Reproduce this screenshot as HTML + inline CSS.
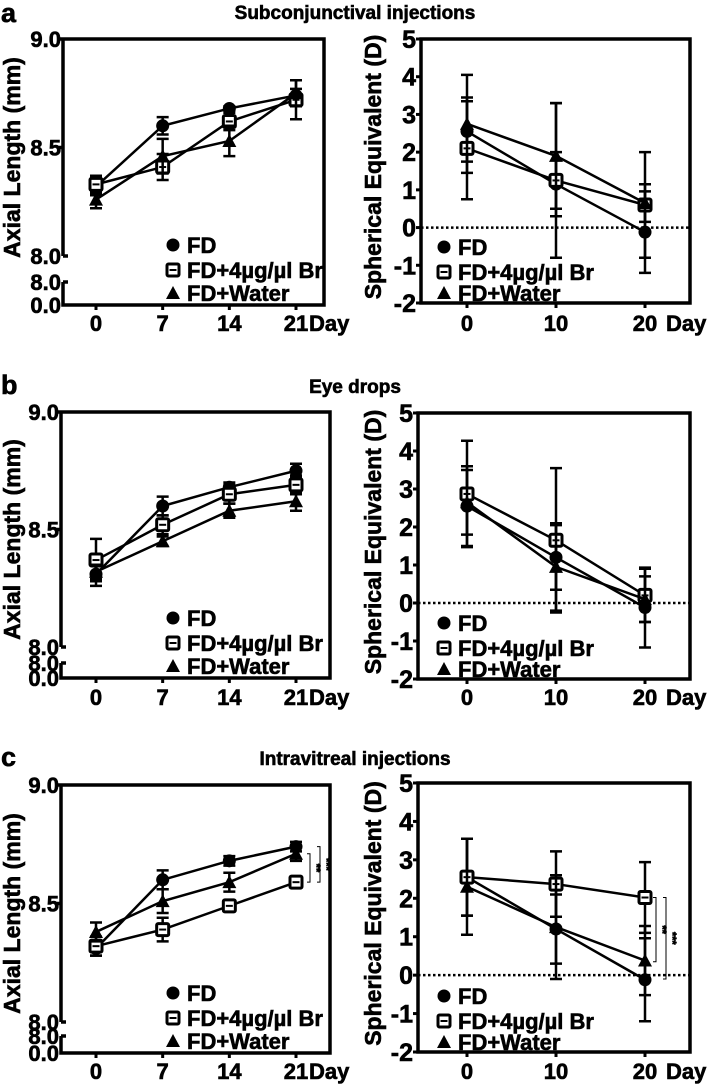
<!DOCTYPE html>
<html><head><meta charset="utf-8">
<style>
body{margin:0;background:#fff;}
svg text{font-family:"Liberation Sans",Arial,sans-serif;font-weight:bold;fill:#000;stroke:#000;stroke-width:0.6px;}
</style></head>
<body>
<svg id="fig" width="709" height="1085" viewBox="0 0 709 1085" xmlns="http://www.w3.org/2000/svg">
<text x="1" y="22" font-size="27">a</text>
<text x="355" y="19" font-size="19" text-anchor="middle">Subconjunctival injections</text>
<text x="1" y="394" font-size="27">b</text>
<text x="355" y="393" font-size="19" text-anchor="middle">Eye drops</text>
<text x="1" y="766" font-size="27">c</text>
<text x="355" y="765" font-size="19" text-anchor="middle">Intravitreal injections</text>
</svg>
<script>
// ---- data ----
const alDays = [0, 7, 14, 21];
const alTicks = ["0", "7", "14", "21"];
const seDays = [0, 10, 20];
const seTicks = ["0", "10", "20"];
const seYTicks = [5, 4, 3, 2, 1, 0, -1, -2];
const seriesNames = ["FD", "FD+4µg/µl Br", "FD+Water"];

const aAL_FD = [8.32, 8.60, 8.68, 8.74];
const aAL_Br = [8.33, 8.41, 8.62, 8.72];
const aAL_W  = [8.26, 8.46, 8.53, 8.75];
const aAL_FDe = [0.04, 0.04, 0.01, 0.03];
const aAL_Bre = [0.04, 0.06, 0.04, 0.09];
const aAL_We  = [0.04, 0.08, 0.07, 0.06];

const aSE_FD = [2.55, 1.15, -0.12];
const aSE_Br = [2.10, 1.25, 0.60];
const aSE_W  = [2.75, 1.90, 0.65];
const aSE_FDe = [0.8, 0.85, 1.08];
const aSE_Bre = [1.35, 2.05, 1.4];
const aSE_We  = [1.3, 1.4, 0.5];

const bAL_FD = [8.31, 8.60, 8.68, 8.75];
const bAL_Br = [8.37, 8.52, 8.65, 8.69];
const bAL_W  = [8.32, 8.45, 8.58, 8.62];
const bAL_FDe = [0.05, 0.04, 0.02, 0.03];
const bAL_Bre = [0.09, 0.04, 0.04, 0.04];
const bAL_We  = [0.03, 0.02, 0.03, 0.04];

const bSE_FD = [2.55, 1.20, -0.12];
const bSE_Br = [2.87, 1.65, 0.20];
const bSE_W  = [2.65, 0.95, 0.10];
const bSE_FDe = [1.05, 0.85, 1.05];
const bSE_Bre = [1.4, 1.9, 0.7];
const bSE_We  = [0.85, 1.15, 0.6];

const cAL_FD = [8.31, 8.60, 8.68, 8.74];
const cAL_Br = [8.32, 8.39, 8.49, 8.59];
const cAL_W  = [8.38, 8.51, 8.59, 8.71];
const cAL_FDe = [0.03, 0.04, 0.02, 0.02];
const cAL_Bre = [0.04, 0.05, 0.01, 0.02];
const cAL_We  = [0.04, 0.05, 0.04, 0.03];

const cSE_FD = [2.55, 1.20, -0.12];
const cSE_Br = [2.55, 2.37, 2.02];
const cSE_W  = [2.30, 1.25, 0.38];
const cSE_FDe = [1.0, 0.9, 1.08];
const cSE_Bre = [1.0, 0.85, 0.92];
const cSE_We  = [1.25, 1.35, 0.9];

const cALsig = [[8.71, 8.59, "**"], [8.74, 8.59, "***"]];
const cSEsig = [[2.02, 0.35, "**"], [2.02, -0.1, "***"]];

// ---- drawing ----
const svg = document.getElementById('fig');
const NS = 'http://www.w3.org/2000/svg';
function el(tag, attrs, parent) {
  const e = document.createElementNS(NS, tag);
  for (const k in attrs) e.setAttribute(k, attrs[k]);
  (parent || svg).appendChild(e);
  return e;
}
function txt(x, y, s, size, anchor, parent) {
  const t = el('text', {x: x, y: y, 'font-size': size, 'text-anchor': anchor || 'start'}, parent);
  t.textContent = s;
  return t;
}
function marker(g, kind, x, y) {
  if (kind === 0) {
    el('circle', {cx: x, cy: y, r: 6.5, fill: '#000'}, g);
  } else if (kind === 1) {
    el('rect', {x: x - 6, y: y - 6, width: 12, height: 12, rx: 1.5, fill: '#fff', stroke: '#000', 'stroke-width': 3}, g);
    el('line', {x1: x - 3.5, y1: y, x2: x + 3.5, y2: y, stroke: '#000', 'stroke-width': 2}, g);
  } else {
    el('path', {d: `M${x} ${y - 7}L${x + 7} ${y + 6}L${x - 7} ${y + 6}Z`, fill: '#000'}, g);
  }
}
function series(g, xs, vals, errs, kind, X, Y, name) {
  const pl = el('polyline', {points: xs.map((d, i) => X(d) + ',' + Y(vals[i])).join(' '), fill: 'none', stroke: '#000', 'stroke-width': 2.5}, g);
  
  
  xs.forEach((d, i) => {
    const x = X(d), y1 = Y(vals[i] + errs[i]), y2 = Y(vals[i] - errs[i]);
    const eb = el('path', {d: `M${x} ${y1}V${y2}M${x - 6} ${y1}H${x + 6}M${x - 6} ${y2}H${x + 6}`, stroke: '#000', 'stroke-width': 2.5, fill: 'none'}, g);
    
    
  });
  xs.forEach((d, i) => {
    const mg = el('g', {}, g);
    
    
    marker(mg, kind, X(d), Y(vals[i]));
  });
}
function legend(g, x, ys) {
  seriesNames.forEach((n, i) => {
    const lg = el('g', {}, g);
    
    
    marker(lg, i, x, ys[i]);
    txt(x + 14, ys[i] + 8, n, 22, 'start', lg);
  });
}
function sig(g, arr, xs, Y, panelName) {
  arr.forEach((s, i) => {
    const x = xs[i];
    const b = el('path', {d: `M${x - 3} ${Y(s[0])}H${x}V${Y(s[1])}H${x - 3}`, stroke: '#000', 'stroke-width': 1, fill: 'none'}, g);
    
    
    const my = (Y(s[0]) + Y(s[1])) / 2;
    const t = txt(x + 3, my, s[2], 11, 'middle', g);
    t.setAttribute('transform', `rotate(90 ${x + 3} ${my})`);
  });
}

function alPanel(name, L, R, yTop, y80, y80b, y00, labY, v, e, sg) {
  const g = el('g', {});
  
  
  const xs0 = 96, xs1 = 296;
  const X = d => xs0 + (d - alDays[0]) / (alDays[3] - alDays[0]) * (xs1 - xs0);
  const Y = val => y80 + (val - 8.0) / 1.0 * (yTop - y80);
  const frame = el('path', {d: `M${L} ${y80}V${yTop}H${R}V${y00}H${L}V${y80b}M${L} ${y80b}H${L + 5}M${L} ${y80}H${L + 5}M${L - 4} ${yTop}H${L}M${L - 4} ${Y(8.5)}H${L}`, stroke: '#000', 'stroke-width': 3.5, fill: 'none'}, g);
  
  
  [[9.0, '9.0'], [8.5, '8.5'], [8.0, '8.0']].forEach(t => txt(L - 2, Y(t[0]) + 8, t[1], 22, 'end', g));
  txt(L - 2, y80b + 8, '8.0', 22, 'end', g);
  txt(L - 2, y00 + 8, '0.0', 22, 'end', g);
  alTicks.forEach((t, i) => {
    el('line', {x1: X(alDays[i]), y1: y00, x2: X(alDays[i]), y2: y00 + 5, stroke: '#000', 'stroke-width': 3}, g);
    txt(X(alDays[i]), labY, t, 22, 'middle', g);
  });
  txt(X(21) + 13, labY, 'Day', 22, 'start', g);
  const cy = (yTop + y80) / 2 + 10;
  const yt = txt(20, cy, 'Axial Length (mm)', 23, 'middle', g);
  yt.setAttribute('transform', `rotate(-90 20 ${cy})`);
  
  
  series(g, alDays, v[0], e[0], 0, X, Y, 'fd');
  series(g, alDays, v[1], e[1], 1, X, Y, 'fd-br');
  series(g, alDays, v[2], e[2], 2, X, Y, 'fd-water');
  legend(g, 173, [y00 - 60, y00 - 35, y00 - 12]);
  if (sg) sig(g, sg, [310, 320], Y, name);
}

function sePanel(name, L, R, yTop, yBot, labY, v, e, sg) {
  const g = el('g', {});
  
  
  const X = d => 467 + d / 20 * (645 - 467);
  const Y = val => yTop + (5 - val) / 7 * (yBot - yTop);
  const frame = el('rect', {x: L, y: yTop, width: R - L, height: yBot - yTop, fill: 'none', stroke: '#000', 'stroke-width': 3.5}, g);
  
  
  const zl = el('line', {x1: L, y1: Y(0), x2: R, y2: Y(0), stroke: '#000', 'stroke-width': 2.5, 'stroke-dasharray': '2.5,2.5'}, g);
  
  
  seYTicks.forEach(t => {
    el('line', {x1: L - 5, y1: Y(t), x2: L, y2: Y(t), stroke: '#000', 'stroke-width': 3}, g);
    txt(L - 5, Y(t) + 9, String(t), 25, 'end', g);
  });
  seTicks.forEach((t, i) => {
    el('line', {x1: X(seDays[i]), y1: yBot, x2: X(seDays[i]), y2: yBot + 5, stroke: '#000', 'stroke-width': 3}, g);
    txt(X(seDays[i]), labY, t, 22, 'middle', g);
  });
  txt(X(20) + 21, labY, 'Day', 22, 'start', g);
  const cy = (yTop + yBot) / 2 - 4;
  const yt = txt(381, cy, 'Spherical Equivalent (D)', 23, 'middle', g);
  yt.setAttribute('transform', `rotate(-90 381 ${cy})`);
  
  
  series(g, seDays, v[0], e[0], 0, X, Y, 'fd');
  series(g, seDays, v[1], e[1], 1, X, Y, 'fd-br');
  series(g, seDays, v[2], e[2], 2, X, Y, 'fd-water');
  legend(g, 444, [yBot - 56, yBot - 31, yBot - 10]);
  if (sg) sig(g, sg, [656, 666], Y, name);
}

alPanel('panel-a-axial-length', 63, 324, 39, 256, 282, 305, 331,
  [aAL_FD, aAL_Br, aAL_W], [aAL_FDe, aAL_Bre, aAL_We]);
sePanel('panel-a-spherical-equivalent', 421, 690, 39, 303, 331,
  [aSE_FD, aSE_Br, aSE_W], [aSE_FDe, aSE_Bre, aSE_We]);
alPanel('panel-b-axial-length', 61, 330, 412, 647, 663, 678, 705,
  [bAL_FD, bAL_Br, bAL_W], [bAL_FDe, bAL_Bre, bAL_We]);
sePanel('panel-b-spherical-equivalent', 418, 690, 413, 679, 705,
  [bSE_FD, bSE_Br, bSE_W], [bSE_FDe, bSE_Bre, bSE_We]);
alPanel('panel-c-axial-length', 61, 330, 785, 1022, 1036, 1053, 1079,
  [cAL_FD, cAL_Br, cAL_W], [cAL_FDe, cAL_Bre, cAL_We], cALsig);
sePanel('panel-c-spherical-equivalent', 418, 690, 783, 1052, 1079,
  [cSE_FD, cSE_Br, cSE_W], [cSE_FDe, cSE_Bre, cSE_We], cSEsig);
</script>
</body></html>
